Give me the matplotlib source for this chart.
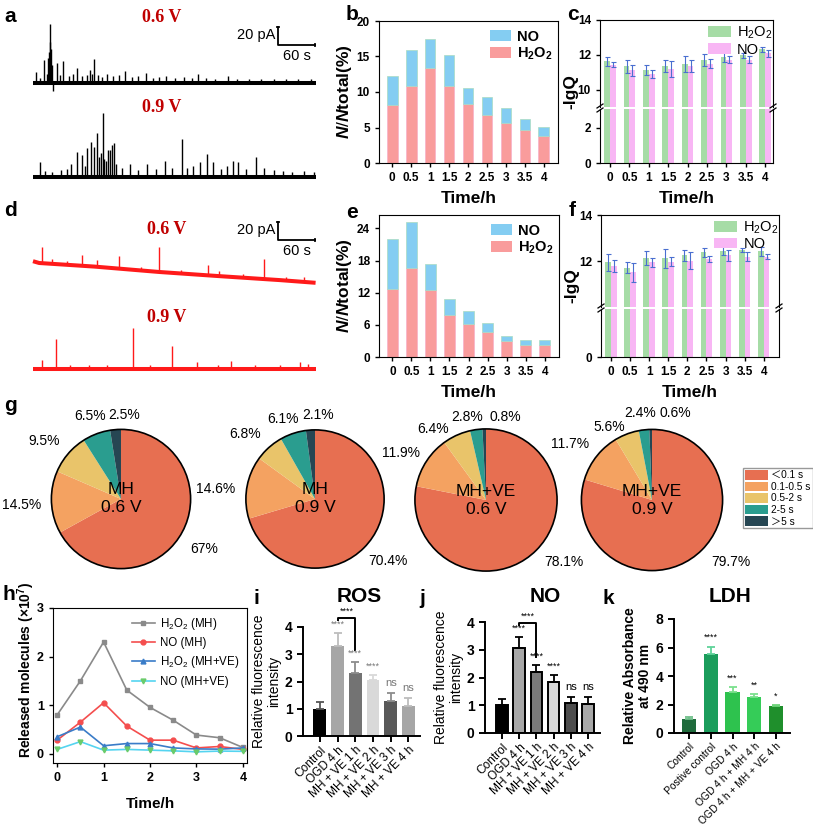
import numpy as np
import matplotlib.pyplot as plt
from matplotlib.patches import Patch, Circle
from matplotlib.lines import Line2D

W, H = 813, 827

plt.rcParams['font.family'] = ['Liberation Sans', 'DejaVu Sans']
plt.rcParams['mathtext.fontset'] = 'custom'
plt.rcParams['mathtext.rm'] = 'Liberation Sans'
plt.rcParams['mathtext.it'] = 'Liberation Sans:bold:italic'
plt.rcParams['mathtext.bf'] = 'Liberation Sans:bold'

# ---------------- data ----------------
# amperometric traces: spike time (s) and spike amplitude (pA)
a06_t = [5, 12, 18, 22, 24, 26, 27, 28, 29, 30,
         33, 39, 44, 49, 58, 65, 71, 80, 88, 92,
         95, 99, 105, 112, 120, 130, 140, 149, 160, 170,
         183, 195, 205, 215, 230, 245, 258, 267, 280, 295,
         316, 330, 350, 370, 390, 410, 430, 450]
a06_h = [12, 6, 26, 10, 28, 35, 65, 45, 38, 20,
         -9, 22, 9, 24, 8, 10, 17, 8, 9, 15,
         10, 27, 9, 7, 10, 8, 9, 13, 7, 8,
         11, 6, 7, 8, 6, 7, 6, 10, 6, 5,
         8, 4, 5, 4, 5, 4, 4, 5]
a09_t = [11, 20, 30, 45, 55, 62, 71, 79, 84, 88,
         94, 99, 103, 107, 110, 113, 115, 118, 122, 125,
         128, 131, 135, 145, 157, 170, 185, 200, 214, 225,
         241, 250, 260, 270, 282, 292, 305, 315, 324, 333,
         345, 361, 375, 390, 405, 420, 440, 455]
a09_h = [17, 7, 6, 8, 9, 15, 28, 24, 12, 32,
         39, 33, 49, 22, 27, 71, 20, 18, 30, 30,
         36, 38, 15, 10, 15, 8, 15, 9, 18, 10,
         42, 10, 12, 17, 26, 17, 9, 12, 18, 17,
         9, 22, 10, 8, 7, 6, 7, 6]
flat_t = [0, 458]
flat_v = [0, 0]
d06_base_t = [0, 10, 100, 205, 300, 400, 458]
d06_base_v = [2, 0, -4, -10, -14.5, -19, -22]
d06_t = [15, 30, 55, 80, 104, 140, 175, 205, 240, 283, 302, 340, 374, 410, 440]
d06_h = [18, 5, 4, 12, 8, 14, 4, 28, 4, 12, 6, 4, 22, 4, 5]
d09_t = [15, 38, 60, 90, 120, 162, 190, 225, 265, 300, 321, 360, 400, 432, 445]
d09_h = [10, 33, 5, 5, 5, 46, 5, 26, 8, 4, 9, 4, 4, 8, 6]

times = ['0', '0.5', '1', '1.5', '2', '2.5', '3', '3.5', '4']
b_total = [12.3, 15.9, 17.4, 15.2, 10.6, 9.3, 7.7, 6.2, 5.0]
b_h2o2 = [8.2, 10.9, 13.4, 10.8, 8.3, 6.7, 5.6, 4.6, 3.8]
e_total = [22.1, 25.2, 17.4, 10.9, 8.6, 6.3, 3.9, 3.1, 3.1]
e_h2o2 = [12.6, 16.6, 12.5, 7.8, 6.2, 4.6, 3.0, 2.3, 2.3]

c_h2o2 = [11.62, 11.33, 11.14, 11.37, 11.49, 11.68, 11.90, 11.98, 12.32]
c_h2o2_err = [0.25, 0.35, 0.30, 0.35, 0.45, 0.35, 0.30, 0.15, 0.15]
c_no = [11.43, 11.10, 10.90, 11.18, 11.37, 11.49, 11.71, 11.71, 12.10]
c_no_err = [0.15, 0.30, 0.25, 0.45, 0.35, 0.25, 0.20, 0.20, 0.20]
f_h2o2 = [11.96, 11.74, 12.14, 12.14, 12.26, 12.40, 12.46, 12.50, 12.43]
f_h2o2_err = [0.35, 0.25, 0.30, 0.40, 0.25, 0.20, 0.20, 0.10, 0.18]
f_no = [11.81, 11.53, 11.96, 11.99, 12.04, 12.11, 12.26, 12.21, 12.21]
f_no_err = [0.25, 0.40, 0.20, 0.20, 0.35, 0.12, 0.25, 0.20, 0.12]

dwell_bins = ['＜0.1 s', '0.1-0.5 s', '0.5-2 s', '2-5 s', '＞5 s']
pie_titles = ['MH\n0.6 V', 'MH\n0.9 V', 'MH+VE\n0.6 V', 'MH+VE\n0.9 V']
pie_mh_06 = [67, 14.5, 9.5, 6.5, 2.5]
pie_mh_09 = [70.4, 14.6, 6.8, 6.1, 2.1]
pie_ve_06 = [78.1, 11.9, 6.4, 2.8, 0.8]
pie_ve_09 = [79.7, 11.7, 5.6, 2.4, 0.6]

h_time = [0, 0.5, 1, 1.5, 2, 2.5, 3, 3.5, 4]
h_h2o2_mh = [0.80, 1.50, 2.30, 1.31, 0.955, 0.69, 0.385, 0.33, 0.13]
h_no_mh = [0.28, 0.65, 1.05, 0.57, 0.28, 0.28, 0.12, 0.15, 0.09]
h_h2o2_ve = [0.35, 0.55, 0.165, 0.21, 0.21, 0.12, 0.10, 0.095, 0.12]
h_no_ve = [0.09, 0.25, 0.075, 0.09, 0.075, 0.06, 0.04, 0.055, 0.05]

ij_groups = ['Control', 'OGD 4 h', 'MH + VE 1 h', 'MH + VE 2 h', 'MH + VE 3 h', 'MH + VE 4 h']
ij_sig = ['', '****', '****', '****', 'ns', 'ns']
ros_vals = [1.0, 3.32, 2.31, 2.04, 1.28, 1.10]
ros_err = [0.26, 0.46, 0.40, 0.21, 0.31, 0.31]
no_vals = [1.0, 3.07, 2.20, 1.84, 1.08, 1.04]
no_err = [0.22, 0.38, 0.25, 0.25, 0.22, 0.26]
ldh_groups = ['Control', 'Postive control', 'OGD 4 h', 'OGD 4 h + MH 4 h', 'OGD 4 h + MH + VE 4 h']
ldh_vals = [1.0, 5.55, 2.90, 2.50, 1.87]
ldh_err = [0.10, 0.50, 0.30, 0.25, 0.10]
ldh_sig = ['', '****', '***', '**', '*']

# ---------------- layout helpers ----------------
fig = plt.figure(figsize=(W / 100, H / 100), dpi=100)


def box(x0, y0, x1, y1):
    return fig.add_axes([x0 / W, 1 - y1 / H, (x1 - x0) / W, (y1 - y0) / H])


def label(x, y, s, **kw):
    fig.text(x / W, 1 - y / H, s, **kw)


def fig_line(xs, ys, **kw):
    fig.add_artist(Line2D([x / W for x in xs], [1 - y / H for y in ys],
                          transform=fig.transFigure, **kw))


for s, x, y in [('a', 10, 16), ('b', 352, 14), ('c', 573, 14), ('d', 10, 211),
                ('e', 352, 212), ('f', 572, 211), ('g', 10, 406), ('h', 9, 594),
                ('i', 256, 598), ('j', 422, 598), ('k', 608, 598)]:
    label(x, y, s, fontsize=15, fontweight='bold', ha='center', va='center')

# ---------------- a / d : traces ----------------
SX, SY = 0.617, 0.9   # px per second, px per pA


def trace_panel(y0, y1, base1, base2, traces, color, bar_top):
    ax = box(28, y0, 322, y1)
    ax.set_xlim((28 - 33) / SX, (322 - 33) / SX)
    ax.set_ylim(-(y1 - base1) / SY, (base1 - y0) / SY)
    ax.axis('off')
    offsets = [0, -(base2 - base1) / SY]
    for (bt, bv, st, sh), off in zip(traces, offsets):
        bv = np.asarray(bv, float) + off
        ax.plot(bt, bv, color=color, lw=2.9, solid_capstyle='butt')
        b0 = np.interp(st, bt, bv)
        ax.vlines(st, b0, b0 + np.asarray(sh), color=color, lw=1.0)
    x0 = (278 - 33) / SX
    yb = (base1 - bar_top) / SY - 20
    ax.plot([x0, x0, x0 + 60], [yb + 20, yb, yb], color='black', lw=1.3)
    ax.plot([x0 - 2, x0 + 2], [yb + 20, yb + 20], color='black', lw=1.3)
    ax.plot([x0 + 60, x0 + 60], [yb - 1.5, yb + 1.5], color='black', lw=1.3)
    ax.text(x0 - 5, yb + 11, '20 pA', ha='right', va='center', fontsize=10.5)
    ax.text(x0 + 30, yb - 4, '60 s', ha='center', va='top', fontsize=10.5)


trace_panel(18, 192, 83, 177, [(flat_t, flat_v, a06_t, a06_h),
                              (flat_t, flat_v, a09_t, a09_h)], 'black', 27)
trace_panel(205, 385, 263, 369, [(d06_base_t, d06_base_v, d06_t, d06_h),
                                (flat_t, flat_v, d09_t, d09_h)], '#ff1a1a', 222)
for x, y, s in [(162, 17, '0.6 V'), (162, 108, '0.9 V'), (167, 230, '0.6 V'), (167, 317, '0.9 V')]:
    label(x, y, s, fontsize=13, fontweight='bold', color='#c00000', family='Liberation Serif',
          ha='center', va='center')

# ---------------- b / e : stacked bars ----------------
BLUE, PINK = '#84cdf2', '#f99c9c'


def stacked(bx, total, h2o2, ylim, yticks):
    ax = box(*bx)
    x = np.arange(len(times))
    ax.bar(x, h2o2, 0.56, color=PINK, edgecolor='#f7a8c8', lw=0.4)
    ax.bar(x, np.subtract(total, h2o2), 0.56, bottom=h2o2, color=BLUE,
           edgecolor='#a9dcc0', lw=0.5)
    ax.set_xlim(-0.7, 8.75)
    ax.set_ylim(*ylim)
    ax.set_yticks(yticks)
    ax.set_xticks(x, times)
    ax.tick_params(labelsize=8.5, width=1, length=3)
    for t in ax.get_xticklabels() + ax.get_yticklabels():
        t.set_fontweight('bold')
    ax.set_xlabel('Time/h', fontsize=12.5, fontweight='bold', labelpad=5)
    ax.set_ylabel(r'$\it{N/N}$total(%)', fontsize=12.5, fontweight='bold', labelpad=2)
    ax.legend([Patch(facecolor=BLUE), Patch(facecolor=PINK)], ['NO', r'$\mathbf{H_2O_2}$'],
              loc='upper right', bbox_to_anchor=(1.02, 1.0), frameon=False,
              prop={'weight': 'bold', 'size': 10.5}, handlelength=1.5, handleheight=0.8,
              handletextpad=0.4, labelspacing=0.15, borderaxespad=0.2)


stacked((379, 21, 558, 163), b_total, b_h2o2, (0, 20), [0, 5, 10, 15, 20])
stacked((379, 215, 559, 357), e_total, e_h2o2, (0, 26.5), [0, 6, 12, 18, 24])

# ---------------- c / f : broken-axis bars ----------------
GREEN, MAG, EBLUE = '#a6dca6', '#f8b6f4', '#4a6fd0'


def broken(top_box, bot_box, xlim, up_lim, lo_lim, up_ticks, lo_ticks, h2o2, h2o2_err, no, no_err):
    up, lo = box(*top_box), box(*bot_box)
    x = np.arange(len(times))
    for ax in (up, lo):
        ax.bar(x - 0.15, h2o2, 0.3, color=GREEN)
        ax.bar(x + 0.15, no, 0.3, color=MAG)
        ax.errorbar(x - 0.15, h2o2, yerr=h2o2_err, fmt='none', ecolor=EBLUE, capsize=1.8, elinewidth=0.8,
                    capthick=0.8)
        ax.errorbar(x + 0.15, no, yerr=no_err, fmt='none', ecolor=EBLUE, capsize=1.8, elinewidth=0.8,
                    capthick=0.8)
        ax.set_xlim(*xlim)
        ax.tick_params(labelsize=8.5, width=1, length=3)
    up.set_ylim(*up_lim)
    lo.set_ylim(*lo_lim)
    up.set_yticks(up_ticks)
    lo.set_yticks(lo_ticks)
    up.spines['bottom'].set_visible(False)
    lo.spines['top'].set_visible(False)
    up.tick_params(axis='x', bottom=False, labelbottom=False)
    lo.set_xticks(x, times)
    for t in lo.get_xticklabels() + lo.get_yticklabels() + up.get_yticklabels():
        t.set_fontweight('bold')
    lo.set_xlabel('Time/h', fontsize=12.5, fontweight='bold', labelpad=5)
    fig.text((top_box[0] - 29) / W, 1 - ((top_box[1] + bot_box[3]) / 2) / H, '-lgQ', rotation=90,
             fontsize=12.5, fontweight='bold', ha='center', va='center')
    gap = (top_box[3] + bot_box[1]) / 2
    for xx in (top_box[0], top_box[2]):
        for dy in (-2, 2):
            fig_line([xx - 3, xx + 3], [gap + dy + 2, gap + dy - 2], color='black', lw=0.9)
    up.legend([Patch(facecolor=GREEN), Patch(facecolor=MAG)], ['H$_2$O$_2$', 'NO'],
              loc='upper right', bbox_to_anchor=(1.04, 1.03), frameon=False, fontsize=10.5,
              handlelength=1.6, handleheight=0.7, handletextpad=0.4, labelspacing=0.1,
              borderaxespad=0.1)


broken((600, 20, 773, 107), (600, 109, 773, 163), (-0.52, 8.4), (9.0, 14), (0, 3.07),
       [10, 12, 14], [0, 2], c_h2o2, c_h2o2_err, c_no, c_no_err)
broken((601, 215, 779, 307), (601, 309, 779, 357), (-0.52, 8.8), (10.04, 14), (0, 2.03),
       [12, 14], [0], f_h2o2, f_h2o2_err, f_no, f_no_err)

# ---------------- g : pies ----------------
PIE_COLORS = ['#e76f51', '#f4a261', '#e9c46a', '#2a9d8f', '#264653']
pie_sets = [pie_mh_06, pie_mh_09, pie_ve_06, pie_ve_09]
pie_centers = [(121, 499, 71), (315, 499, 70.5), (486, 500, 72.5), (652, 500, 72)]
pie_label_xy = [
    [(204, 549), (22, 505), (44, 441), (90, 416), (124, 415)],
    [(388, 561), (216, 489), (245, 434), (283, 419), (318, 415)],
    [(564, 562), (401, 453), (433, 429), (467, 417), (505, 417)],
    [(731, 562), (570, 444), (609, 427), (640, 413), (675, 413)],
]
for vals, (cx, cy, r), title, lxy in zip(pie_sets, pie_centers, pie_titles, pie_label_xy):
    ax = box(cx - r, cy - r, cx + r, cy + r)
    ax.pie(vals, colors=PIE_COLORS, startangle=90, counterclock=False,
           wedgeprops={'linewidth': 0})
    ax.add_patch(Circle((0, 0), 1, fill=False, edgecolor='black', lw=1.2))
    ax.set_xlim(-1.02, 1.02)
    ax.set_ylim(-1.02, 1.02)
    ax.text(0, 0, title, ha='center', va='center', fontsize=12.5, linespacing=1.25)
    for v, (lx, ly) in zip(vals, lxy):
        label(lx, ly, f'{v:g}%', fontsize=10, ha='center', va='center')

fig.legend([Patch(facecolor=c) for c in PIE_COLORS], dwell_bins, loc='upper left',
           bbox_to_anchor=(743 / W, 1 - 468 / H), prop={'family': ['Liberation Sans', 'Noto Sans CJK SC'],
                                                        'size': 7.3},
           handlelength=2.3, handleheight=1.1, handletextpad=0.3, labelspacing=0.12,
           borderpad=0.2, fancybox=False, edgecolor='#999999', framealpha=1, borderaxespad=0)

# ---------------- h : lines ----------------
ax = box(53, 608, 247, 763)
for vals, lc, mk, mc, name in [
        (h_h2o2_mh, '#8a8a8a', 's', '#8a8a8a', 'H$_2$O$_2$ (MH)'),
        (h_no_mh, '#f44e4e', 'o', '#f44e4e', 'NO (MH)'),
        (h_h2o2_ve, '#3a7cc8', '^', '#3a7cc8', 'H$_2$O$_2$ (MH+VE)'),
        (h_no_ve, '#55d4f0', 'v', '#6acb6a', 'NO (MH+VE)')]:
    ax.plot(h_time, vals, color=lc, marker=mk, markersize=3.5, markerfacecolor=mc,
            markeredgecolor=mc, lw=1.2, label=name)
ax.set_xlim(-0.09, 4.09)
ax.set_ylim(-0.19, 3.0)
ax.set_xticks([0, 1, 2, 3, 4])
ax.set_yticks([0, 1, 2, 3])
ax.tick_params(labelsize=9, width=1, length=3)
for t in ax.get_xticklabels() + ax.get_yticklabels():
    t.set_fontweight('bold')
ax.set_xlabel('Time/h', fontsize=11, fontweight='bold', labelpad=9)
ax.set_ylabel(r'Released molecules (×10$^\mathbf{7}$)', fontsize=10, fontweight='bold')
ax.yaxis.set_label_coords(-0.085, 0.6)
ax.legend(loc='upper right', frameon=False, fontsize=8.3, handlelength=2.0, labelspacing=0.45,
          borderaxespad=0.3, handletextpad=0.4)

# ---------------- i / j / k : bar charts ----------------


def prism(bx, vals, errs, colors, ecolors, edge, groups, sig, ylim, yticks, title, tx, ylabel,
          ylab_weight, xlim, width, sig_color, tick_fs):
    ax = box(*bx)
    x = np.arange(len(vals))
    ax.bar(x, vals, width, color=colors, edgecolor=edge if edge else colors,
           lw=1.4 if edge else 0)
    for xi, v, e, ec in zip(x, vals, errs, ecolors):
        ax.errorbar(xi, v, yerr=[[0], [e]], fmt='none', ecolor=ec, capsize=3, elinewidth=1.3,
                    capthick=1.3)
    for xi, v, e, s, sc in zip(x, vals, errs, sig, sig_color):
        if s:
            ax.text(xi, v + e + 0.04 * ylim[1], s, ha='center', va='bottom',
                    fontsize=6.5 if '*' in s else 8, color=sc)
    ax.set_xlim(*xlim)
    ax.set_ylim(*ylim)
    ax.set_yticks(yticks)
    ax.spines[['top', 'right']].set_visible(False)
    ax.spines[['left', 'bottom']].set_linewidth(1.4)
    ax.tick_params(width=1.4, length=4, labelsize=10)
    ax.tick_params(axis='x', pad=2)
    ax.set_xticks(x, groups, rotation=45, ha='right', rotation_mode='anchor', fontsize=tick_fs)
    for t in ax.get_yticklabels():
        t.set_fontweight('bold')
    ax.set_ylabel(ylabel, fontsize=10, fontweight=ylab_weight, labelpad=3, linespacing=1.1)
    label(tx, 597, title, fontsize=15, fontweight='bold', ha='center', va='center')
    return ax


ros_colors = ['#000000', '#a6a6a6', '#737373', '#d9d9d9', '#595959', '#a6a6a6']
ros_ecolors = ['#555555', '#bdbdbd', '#8c8c8c', '#d9d9d9', '#8c8c8c', '#bdbdbd']
ax_i = prism((303, 627, 420, 736), ros_vals, ros_err, ros_colors, ros_ecolors, None, ij_groups, ij_sig,
             (0, 4), [0, 1, 2, 3, 4], 'ROS', 359, 'Relative fluorescence\nintensity', 'normal',
             (-0.95, 5.65), 0.72, ['#777777'] * 6, 8.6)
ax_i.plot([1, 1, 2, 2], [4.25, 4.33, 4.33, 3.15], color='black', lw=1.4, clip_on=False)
ax_i.text(1.5, 4.4, '****', ha='center', va='bottom', fontsize=6.5, clip_on=False)

no_colors = ['#000000', '#a8a8a8', '#7a7a7a', '#d9d9d9', '#4d4d4d', '#a8a8a8']
ax_j = prism((485, 622, 600, 733), no_vals, no_err, no_colors, ['black'] * 6, 'black', ij_groups, ij_sig,
             (0, 4), [0, 1, 2, 3, 4], 'NO', 545, 'Relative fluorescence\nintensity', 'normal',
             (-0.99, 5.7), 0.68, ['black'] * 6, 8.6)
ax_j.plot([1, 1, 2, 2], [3.9, 3.98, 3.98, 2.75], color='black', lw=1.4, clip_on=False)
ax_j.text(1.5, 4.05, '****', ha='center', va='bottom', fontsize=6.5, clip_on=False)

ldh_colors = ['#1f6b3c', '#1b9d5c', '#2ec24e', '#35cc58', '#1f8f2c']
ldh_ecolors = ['#6fbf8a', '#5fd39a', '#7be08e', '#7be08e', '#6ed47a']
prism((674, 619, 790, 733), ldh_vals, ldh_err, ldh_colors, ldh_ecolors, None, ldh_groups, ldh_sig,
      (0, 8), [0, 2, 4, 6, 8], 'LDH', 730, 'Relative Absorbance\nat 490 nm', 'bold',
      (-0.69, 4.64), 0.65, ['black'] * 5, 7.4)

fig.savefig('out.png', dpi=100)
